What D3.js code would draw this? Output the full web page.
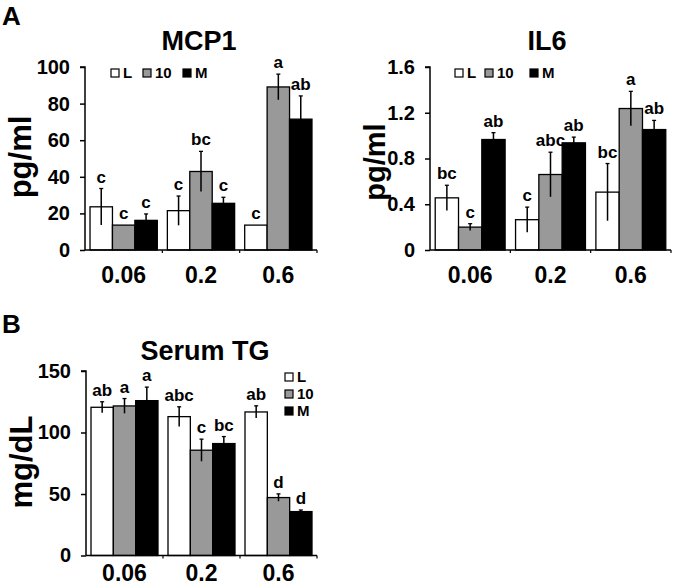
<!DOCTYPE html>
<html><head><meta charset="utf-8">
<script src="https://cdn.jsdelivr.net/npm/d3@7"></script>
<style>
html,body{margin:0;padding:0;background:#fff;}
svg{display:block;font-family:"Liberation Sans",Arial,sans-serif;font-weight:bold;}
</style></head>
<body><svg id="c" width="674" height="584"></svg>
<script>
const groups = ["0.06", "0.2", "0.6"];
const seriesNames = ["L", "10", "M"];
const seriesColors = ["#ffffff", "#999999", "#000000"];

// MCP1 (pg/ml), rows = series L, 10, M; columns = groups
const mcp1Mean = [[23.6, 21.5, 13.6], [13.6, 42.9, 89.1], [16.2, 25.5, 71.5]];
const mcp1Err  = [[10, 8, 0], [0, 11, 7], [3.5, 3.3, 12.7]];
const mcp1Sig  = [["c", "c", "c"], ["c", "bc", "a"], ["c", "c", "ab"]];
const mcp1Ticks = [0, 20, 40, 60, 80, 100];

// IL6 (pg/ml)
const il6Mean = [[0.456, 0.265, 0.506], [0.20, 0.66, 1.237], [0.966, 0.937, 1.053]];
const il6Err  = [[0.11, 0.11, 0.25], [0.03, 0.195, 0.15], [0.06, 0.05, 0.08]];
const il6Sig  = [["bc", "c", "bc"], ["c", "abc", "a"], ["ab", "ab", "ab"]];
const il6Ticks = [0, 0.4, 0.8, 1.2, 1.6];

// Serum TG (mg/dL)
const tgMean = [[120.5, 112.9, 116.7], [121.6, 85.6, 47.1], [125.9, 91.0, 35.7]];
const tgErr  = [[4.5, 8, 5], [6, 9, 3], [11, 5.7, 1.3]];
const tgSig  = [["ab", "abc", "ab"], ["a", "c", "d"], ["a", "bc", "d"]];
const tgTicks = [0, 50, 100, 150];

const svg = d3.select("#c");

function panel(o) {
  const g = svg.append("g");
  const y = d3.scaleLinear().domain([0, o.max]).range([o.y0, o.y1]);
  const x = d3.scaleBand().domain(groups).range([o.x0, o.x1]).paddingInner(0.13).paddingOuter(0.065);
  const xs = d3.scaleBand().domain(seriesNames).range([0, x.bandwidth()]);

  // bars
  seriesNames.forEach((s, si) => {
    groups.forEach((grp, gi) => {
      const v = o.mean[si][gi], e = o.err[si][gi];
      const bx = x(grp) + xs(s);
      g.append("rect").attr("x", bx).attr("y", y(v)).attr("width", xs.bandwidth()).attr("height", y(0) - y(v))
        .attr("fill", seriesColors[si]).attr("stroke", "#000").attr("stroke-width", 1.3);
      const cx = bx + xs.bandwidth() / 2;
      if (e > 0) {
        g.append("line").attr("x1", cx).attr("x2", cx).attr("y1", y(v + e)).attr("y2", y(v - e))
          .attr("stroke", "#000").attr("stroke-width", 1.5);
        g.append("line").attr("x1", cx - 2).attr("x2", cx + 2).attr("y1", y(v + e)).attr("y2", y(v + e))
          .attr("stroke", "#000").attr("stroke-width", 1.3);
      }
      g.append("text").attr("x", cx).attr("y", y(v + e) - 6).attr("text-anchor", "middle")
        .attr("font-size", 17).text(o.sig[si][gi]);
    });
  });

  // y axis
  const ya = g.append("g").attr("transform", `translate(${o.x0},0)`)
    .call(d3.axisLeft(y).tickValues(o.ticks).tickSize(5).tickPadding(10).tickFormat(o.fmt || d3.format("")));
  ya.select(".domain").attr("stroke-width", 1.5).attr("d", `M-5,${o.y1}H0V${o.y0}`);
  ya.selectAll(".tick line").attr("stroke-width", 1.5);
  ya.selectAll(".tick text").attr("font-size", 20).attr("font-family", "Liberation Sans, Arial").attr("font-weight", "bold").attr("fill", "#000");

  // x axis
  g.append("line").attr("x1", o.x0).attr("x2", o.x1).attr("y1", o.y0).attr("y2", o.y0).attr("stroke", "#000").attr("stroke-width", 1.5);
  groups.forEach((grp, gi) => {
    const bx = gi < groups.length - 1 ? (x(grp) + x.bandwidth() + x(groups[gi + 1])) / 2 : o.x1;
    g.append("line").attr("x1", bx).attr("x2", bx).attr("y1", o.y0).attr("y2", o.y0 + 3).attr("stroke", "#000").attr("stroke-width", 1.2);
    g.append("text").attr("x", x(grp) + x.bandwidth() / 2).attr("y", o.y0 + o.xlabOff).attr("text-anchor", "middle")
      .attr("font-size", 23).text(grp);
  });

  // title
  g.append("text").attr("x", o.tx).attr("y", o.ty).attr("text-anchor", "middle").attr("font-size", 27).text(o.title);
  // y label
  g.append("text").attr("transform", `translate(${o.lx},${o.ly}) rotate(-90)`).attr("text-anchor", "middle")
    .attr("font-size", o.lsize).text(o.ylabel);

  // legend
  seriesNames.forEach((s, si) => {
    const p = o.legend[si];
    g.append("rect").attr("x", p[0]).attr("y", p[1]).attr("width", 8).attr("height", 8)
      .attr("fill", seriesColors[si]).attr("stroke", "#000").attr("stroke-width", 1.2);
    g.append("text").attr("x", p[0] + 12).attr("y", p[1] + 8.5).attr("font-size", 15).text(s);
  });
}

panel({ mean: mcp1Mean, err: mcp1Err, sig: mcp1Sig, ticks: mcp1Ticks, max: 100, xlabOff: 33,
  x0: 85, x1: 317, y0: 250, y1: 67, title: "MCP1", tx: 199, ty: 50, ylabel: "pg/ml", lx: 31, ly: 157, lsize: 31,
  legend: [[111, 69], [143, 69], [183, 69]] });

panel({ mean: il6Mean, err: il6Err, sig: il6Sig, ticks: il6Ticks, max: 1.6, xlabOff: 33, fmt: d => d === 0 ? "0" : d3.format(".1f")(d),
  x0: 430, x1: 671, y0: 250, y1: 67, title: "IL6", tx: 547, ty: 50, ylabel: "pg/ml", lx: 385, ly: 162, lsize: 29,
  legend: [[455, 69], [485, 69], [530, 69]] });

panel({ mean: tgMean, err: tgErr, sig: tgSig, ticks: tgTicks, max: 150, xlabOff: 25,
  x0: 86, x1: 317, y0: 555.5, y1: 371, title: "Serum TG", tx: 205, ty: 360, ylabel: "mg/dL", lx: 32, ly: 462, lsize: 31,
  legend: [[285, 373], [285, 390], [285, 407]] });

// panel letters
svg.append("text").attr("x", 2).attr("y", 25).attr("font-size", 26).text("A");
svg.append("text").attr("x", 2).attr("y", 333).attr("font-size", 26).text("B");
</script>
</body></html>
